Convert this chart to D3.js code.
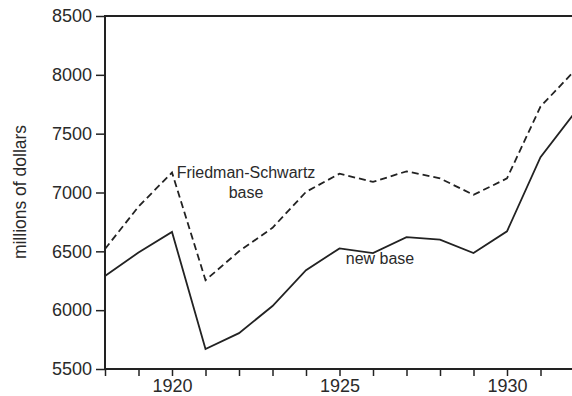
<!DOCTYPE html>
<html>
<head>
<meta charset="utf-8">
<script src="https://cdn.jsdelivr.net/npm/d3@7"></script>
<style>
  body { margin: 0; background: #fff; }
  text { font-family: "Liberation Sans", Arial, sans-serif; fill: #2a2a2a; }
</style>
</head>
<body>
<script>
const years = [1918, 1919, 1920, 1921, 1922, 1923, 1924, 1925, 1926, 1927, 1928, 1929, 1930, 1931, 1932]
const newBase = [6290, 6490, 6665, 5670, 5805, 6035, 6340, 6525, 6485, 6620, 6600, 6485, 6670, 7300, 7670]
const fsBase = [6520, 6880, 7170, 6255, 6500, 6700, 7005, 7160, 7090, 7180, 7120, 6980, 7120, 7730, 8030]
const yTicks = [5500, 6000, 6500, 7000, 7500, 8000, 8500]
const xLabels = [1920, 1925, 1930]

const w = 572
const h = 396
const padL = 105, padR = 574, padT = 16, padB = 369

const svg = d3.select("body").append("svg")
  .attr("width", w)
  .attr("height", h)

const x = d3.scaleLinear().domain([1918, 1932]).range([padL, padR])
const y = d3.scaleLinear().domain([5500, 8500]).range([padB, padT])

const ink = "#222"

// y axis with outward ticks
const yAxis = svg.append("g")
  .attr("transform", `translate(${padL},0)`)
  .call(d3.axisLeft(y).tickValues(yTicks).tickFormat(d3.format("d"))
    .tickSize(9).tickPadding(4).tickSizeOuter(0))
yAxis.select(".domain").remove()
yAxis.selectAll("line").attr("stroke", ink).attr("stroke-width", 1.5)
yAxis.selectAll("text").style("font-size", "18px").attr("fill", "#2a2a2a")

// x axis, ticks every year, labels every 5
const xAxis = svg.append("g")
  .attr("transform", `translate(0,${padB})`)
  .call(d3.axisBottom(x).tickValues(years).tickSize(7).tickPadding(3)
    .tickFormat(d => xLabels.includes(d) ? d : "").tickSizeOuter(0))
xAxis.select(".domain").remove()
xAxis.selectAll("line").attr("stroke", ink).attr("stroke-width", 1.5)
xAxis.selectAll("text").style("font-size", "18px").attr("fill", "#2a2a2a")

// frame: top, left, bottom
svg.append("path")
  .attr("d", `M${w},${padT}H${padL}V${padB}H${w}`)
  .attr("fill", "none")
  .attr("stroke", ink)
  .attr("stroke-width", 2)

const line = d3.line()
  .x((d, i) => x(years[i]))
  .y(d => y(d))

svg.append("path")
  .datum(fsBase)
  .attr("d", line)
  .attr("fill", "none")
  .attr("stroke", ink)
  .attr("stroke-width", 1.8)
  .attr("stroke-dasharray", "7,4")

svg.append("path")
  .datum(newBase)
  .attr("d", line)
  .attr("fill", "none")
  .attr("stroke", ink)
  .attr("stroke-width", 1.8)

// labels
svg.append("text")
  .attr("x", 246).attr("y", 178)
  .attr("text-anchor", "middle")
  .style("font-size", "16px")
  .text("Friedman-Schwartz")
svg.append("text")
  .attr("x", 246).attr("y", 198)
  .attr("text-anchor", "middle")
  .style("font-size", "16px")
  .text("base")
svg.append("text")
  .attr("x", 380).attr("y", 264)
  .attr("text-anchor", "middle")
  .style("font-size", "16px")
  .text("new base")

svg.append("text")
  .attr("transform", "translate(26,192) rotate(-90)")
  .attr("text-anchor", "middle")
  .style("font-size", "17.5px")
  .text("millions of dollars")
</script>
</body>
</html>
